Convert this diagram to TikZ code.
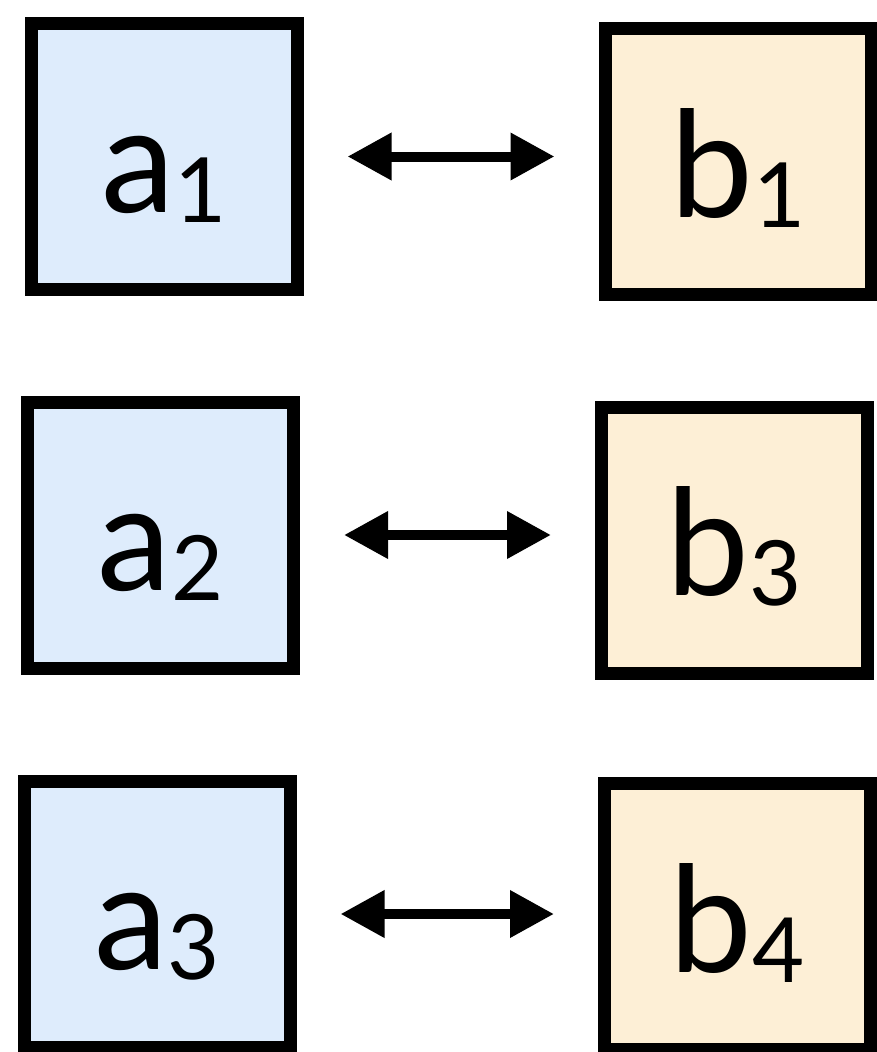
\documentclass[tikz,border=0pt]{standalone}
\usepackage{fontspec}
\setmainfont{Lato}
\usepackage{xcolor}
\usetikzlibrary{arrows.meta, positioning}
\definecolor{boxblue}{RGB}{222,236,252}
\definecolor{boxorange}{RGB}{253,239,214}
\newcommand{\sublbl}[2]{#1\raisebox{-10pt}{\fontsize{90}{90}\selectfont #2}}

\begin{document}
\begin{tikzpicture}[x=1pt, y=-1pt,
    sq/.style={draw, line width=13pt, minimum size=266pt, inner sep=0pt,
      text height=111pt, text depth=0pt, font=\fontsize{148}{148}\selectfont},
    asq/.style={sq, fill=boxblue},
    bsq/.style={sq, fill=boxorange},
    biarrow/.style={line width=10pt, {Triangle[length=44pt,width=45pt]}-{Triangle[length=44pt,width=45pt]},
      shorten <=44pt, shorten >=44pt}]
    \useasboundingbox (0,0) rectangle (877,1052);
    \node[asq] (a1) at (164,156.5) {\sublbl{a}{1}};
    \node[bsq] (b1) at (738,161.5) {\sublbl{b}{1}};
    \node[asq] (a2) at (160.5,535) {\sublbl{a}{2}};
    \node[bsq] (b3) at (734.5,540) {\sublbl{b}{3}};
    \node[asq] (a3) at (157,914) {\sublbl{a}{3}};
    \node[bsq] (b4) at (737.5,916.5) {\sublbl{b}{4}};
    \draw[biarrow] (a1.east) -- (a1.east -| b1.west);
    \draw[biarrow] (a2.east) -- (a2.east -| b3.west);
    \draw[biarrow] (a3.east) -- (a3.east -| b4.west);
\end{tikzpicture}
\end{document}
